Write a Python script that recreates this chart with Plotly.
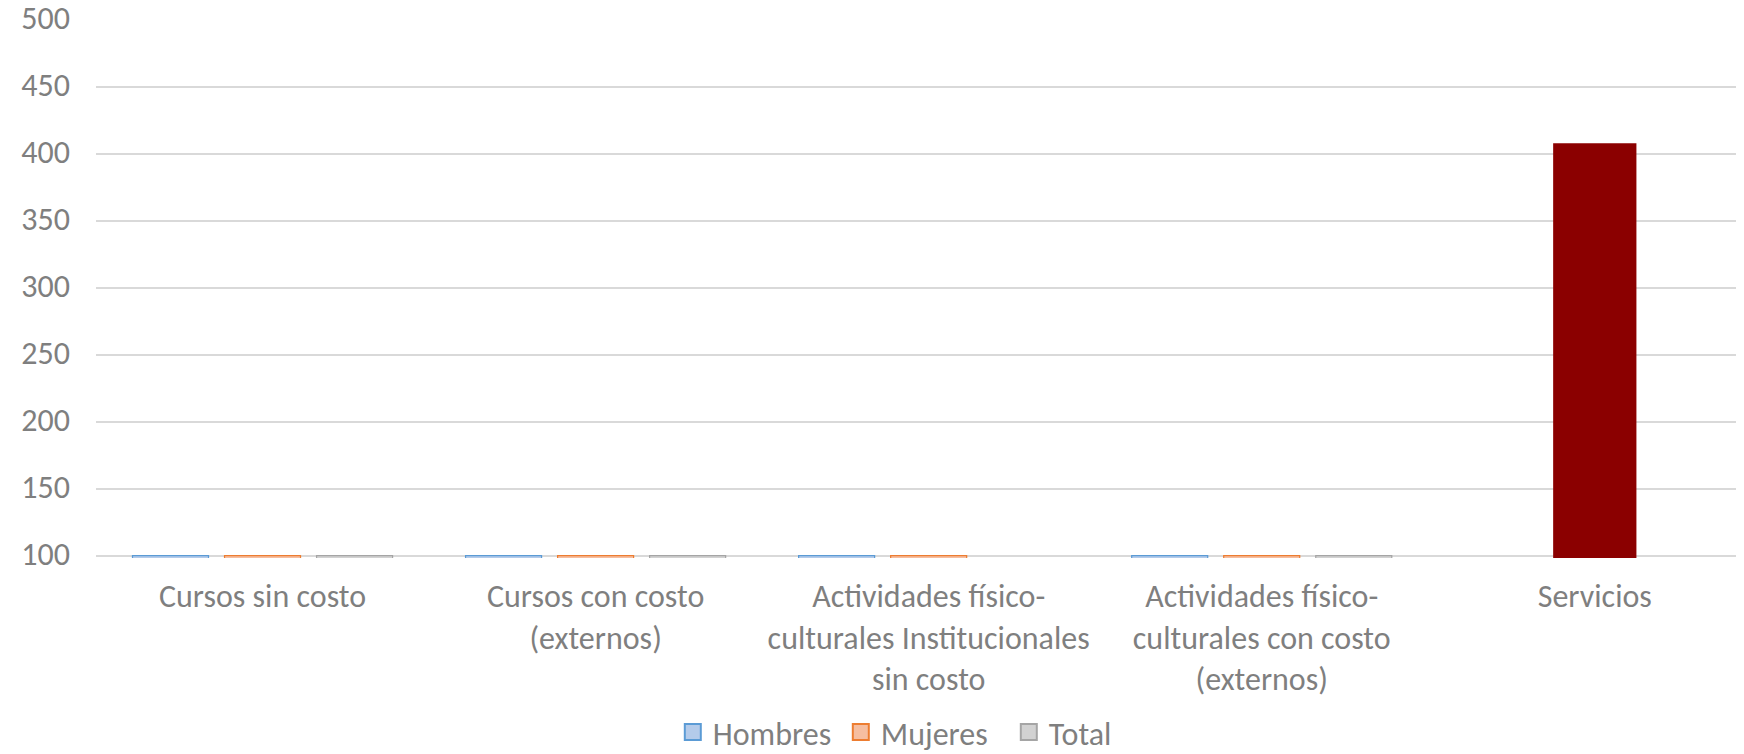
import plotly.graph_objects as go

# ---- data ----
categories = [
    "Cursos sin costo",
    "Cursos con costo<br>(externos)",
    "Actividades físico-<br>culturales Institucionales<br>sin costo",
    "Actividades físico-<br>culturales con costo<br>(externos)",
    "Servicios",
]
# values below the axis minimum (100) cannot be read; they render as slivers at the axis
hombres = [40, 15, 45, 10, None]
mujeres = [55, 20, 60, 15, None]
total = [95, 35, None, 25, None]
servicios = [None, None, None, None, 408]

y_ticks = [100, 150, 200, 250, 300, 350, 400, 450, 500]
Y_MIN, Y_MAX = 100, 500
Y_RANGE_LOW = 98.2

FONT = "Carlito, Calibri, Lato, sans-serif"
TXT = "#7F7F7F"
FS = 32


def excel_clip(vals):
    # Excel draws values below the axis minimum as a flat bar at the axis
    return [None if v is None else max(v, Y_MIN) for v in vals]


fig = go.Figure()
series = [
    ("Hombres", hombres, "#B4CBEA", "#5B9BD5"),
    ("Mujeres", mujeres, "#F6BEA0", "#ED7D31"),
    ("Total", total, "#D2D2D2", "#A5A5A5"),
]
for name, vals, fill, edge in series:
    fig.add_trace(go.Bar(
        name=name, x=categories, y=excel_clip(vals), customdata=vals,
        hovertemplate="%{x}: %{customdata}<extra>" + name + "</extra>",
        marker=dict(color=fill, line=dict(color=edge, width=1.2)),
        legendgroup=name, showlegend=False,
    ))
    # legend swatch
    fig.add_trace(go.Scatter(
        name=name, x=[None], y=[None], mode="markers", legendgroup=name,
        marker=dict(symbol="square", size=18, color=fill, line=dict(color=edge, width=2)),
        hoverinfo="skip",
    ))

fig.add_trace(go.Bar(
    name="Servicios", x=categories, y=servicios, showlegend=False,
    offset=-0.125, width=0.25,
    marker=dict(color="#8B0000", line=dict(width=0)),
))

fig.update_layout(
    width=1744, height=770,
    margin=dict(l=88, r=8, t=12, b=220),
    paper_bgcolor="white", plot_bgcolor="white",
    barmode="group", bargap=0.171, bargroupgap=0.174,
    font=dict(family=FONT, color=TXT, size=FS),
    legend=dict(orientation="h", x=0.350, xanchor="left", y=-0.324, yanchor="middle",
                font=dict(size=FS, color=TXT), itemwidth=30, entrywidth=123,
                traceorder="normal"),
    xaxis=dict(type="category", range=[-0.5, 4.448], showgrid=False, showline=False,
               ticks="", tickfont=dict(size=FS, color=TXT), tickangle=0,
               automargin=False, ticklabelstandoff=16),
    yaxis=dict(range=[Y_RANGE_LOW, Y_MAX], tickvals=y_ticks, showgrid=True,
               gridcolor="#D9D9D9", gridwidth=1.5, zeroline=False, showline=False,
               ticks="", tickfont=dict(size=FS, color=TXT), ticklabelstandoff=25,
               ticklabelshift=-2, ticklabeloverflow="allow", automargin=False),
)

fig.write_html("out.html")
